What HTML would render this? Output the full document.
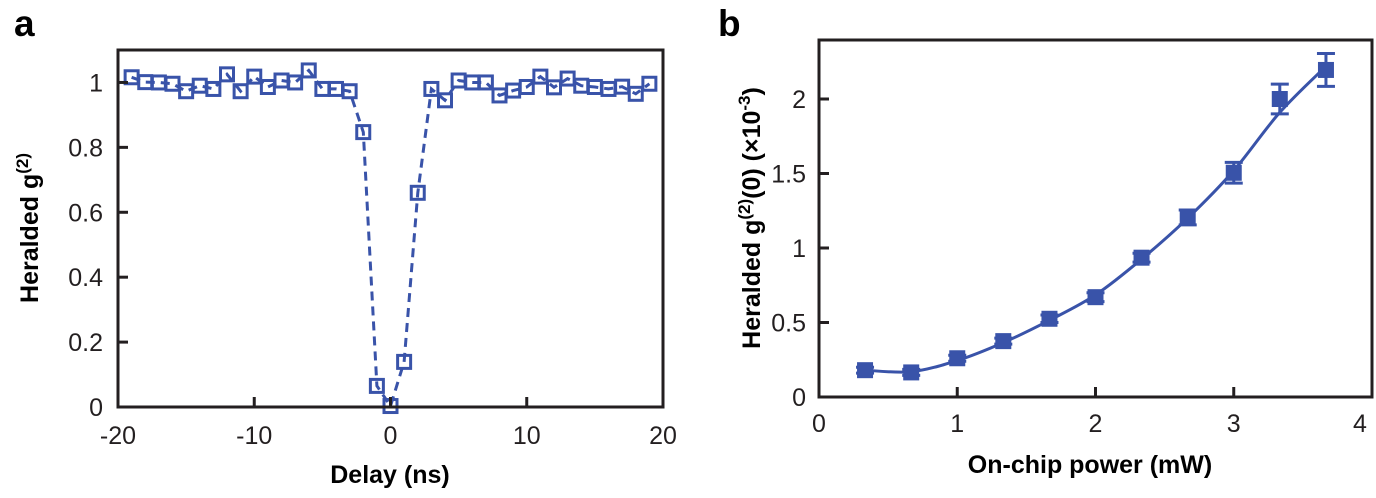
<!DOCTYPE html>
<html><head><meta charset="utf-8"><style>
html,body{margin:0;padding:0;background:#fff;}
svg{display:block;font-family:"Liberation Sans",Arial,sans-serif;}
</style></head><body>
<svg id="fig" width="1376" height="498" viewBox="0 0 1376 498"></svg>
<script>
// Panel a data
const delays = [-19,-18,-17,-16,-15,-14,-13,-12,-11,-10,-9,-8,-7,-6,-5,-4,-3,-2,-1,0,1,2,3,4,5,6,7,8,9,10,11,12,13,14,15,16,17,18,19];
const g2Values = [1.016,1.001,1.0,0.996,0.973,0.99,0.98,1.025,0.973,1.018,0.986,1.006,1.0,1.037,0.98,0.98,0.973,0.847,0.065,0.003,0.139,0.66,0.98,0.945,1.006,1.0,1.0,0.96,0.975,0.986,1.018,0.985,1.012,0.99,0.986,0.98,0.987,0.965,0.996];
const aXTicks = [-20,-10,0,10,20];
const aYTicks = [0,0.2,0.4,0.6,0.8,1];
const aYTickLabels = ["0","0.2","0.4","0.6","0.8","1"];
// Panel b data
const powers = [0.333,0.667,1,1.333,1.667,2,2.333,2.667,3,3.333,3.667];
const g20Values = [0.18,0.165,0.26,0.375,0.525,0.67,0.935,1.205,1.505,2.0,2.195];
const g20Errors = [0.02,0.02,0.02,0.02,0.025,0.03,0.03,0.05,0.07,0.1,0.11];
const fitValues = [0.18,0.17,0.245,0.365,0.515,0.685,0.925,1.2,1.52,1.91,2.22];
const bXTicks = [0,1,2,3,4];
const bYTicks = [0,0.5,1,1.5,2];
const bYTickLabels = ["0","0.5","1","1.5","2"];

const NS="http://www.w3.org/2000/svg";
const svg=document.getElementById('fig');
const BLUE="#3953a9";
const FS=25, TFS=25;
function mk(tag,attrs,parent){const e=document.createElementNS(NS,tag);for(const k in attrs)e.setAttribute(k,attrs[k]);(parent||svg).appendChild(e);return e;}
function txt(s,attrs,parent){const e=mk('text',attrs,parent);e.textContent=s;return e;}

// ---------- Panel a ----------
const A={l:118,r:663,t:50,b:407,x0:-20,x1:20,y0:0,y1:1.1};
const ax=v=>A.l+(v-A.x0)/(A.x1-A.x0)*(A.r-A.l);
const ay=v=>A.b-(v-A.y0)/(A.y1-A.y0)*(A.b-A.t);
const ga=mk('g',{});


const la=txt('a',{x:14,y:36,'font-size':37,'font-weight':'bold'},ga);


let d='';
delays.forEach((x,i)=>{d+=(i?'L':'M')+ax(x).toFixed(1)+' '+ay(g2Values[i]).toFixed(1);});
const lineA=mk('path',{d:d,fill:'none',stroke:BLUE,'stroke-width':3,'stroke-dasharray':'9 6'},ga);


delays.forEach((x,i)=>{
 const r=mk('rect',{x:ax(x)-6.5,y:ay(g2Values[i])-6.5,width:13,height:13,fill:'none',stroke:BLUE,'stroke-width':3},ga);
 
 
});
const boxA=mk('rect',{x:A.l,y:A.t,width:A.r-A.l,height:A.b-A.t,fill:'none',stroke:'#231f20','stroke-width':3},ga);


aXTicks.forEach(v=>{
 const t=mk('line',{x1:ax(v),x2:ax(v),y1:A.b,y2:A.b-10,stroke:'#231f20','stroke-width':3},ga);
 
 
 const l=txt(String(v),{x:ax(v),y:A.b+37,'font-size':FS,'text-anchor':'middle',fill:'#231f20'},ga);
 
 
});
aYTicks.forEach((v,i)=>{
 const t=mk('line',{x1:A.l,x2:A.l+10,y1:ay(v),y2:ay(v),stroke:'#231f20','stroke-width':3},ga);
 
 
 const l=txt(aYTickLabels[i],{x:A.l-15,y:ay(v)+9,'font-size':FS,'text-anchor':'end',fill:'#231f20'},ga);
 
 
});
const xta=txt('Delay (ns)',{x:390,y:483,'font-size':TFS,'font-weight':'bold','text-anchor':'middle'},ga);


const yta=mk('text',{transform:'translate(38,228) rotate(-90)','font-size':TFS,'font-weight':'bold','text-anchor':'middle'},ga);
yta.innerHTML='Heralded g<tspan dy="-10" font-size="17">(2)</tspan>';



// ---------- Panel b ----------
const B={l:819,r:1372,t:40,b:397,x0:0,x1:4,y0:0,y1:2.396};
const bx=v=>B.l+(v-B.x0)/(B.x1-B.x0)*(B.r-B.l);
const by=v=>B.b-(v-B.y0)/(B.y1-B.y0)*(B.b-B.t);
const gb=mk('g',{});


const lb=txt('b',{x:718,y:36,'font-size':37,'font-weight':'bold'},gb);


// smooth fit via Catmull-Rom
const P=powers.map((x,i)=>[bx(x),by(fitValues[i])]);
let fd='M'+P[0][0]+' '+P[0][1];
for(let i=0;i<P.length-1;i++){
 const p0=P[Math.max(0,i-1)],p1=P[i],p2=P[i+1],p3=P[Math.min(P.length-1,i+2)];
 const c1=[p1[0]+(p2[0]-p0[0])/6,p1[1]+(p2[1]-p0[1])/6];
 const c2=[p2[0]-(p3[0]-p1[0])/6,p2[1]-(p3[1]-p1[1])/6];
 fd+=`C${c1[0].toFixed(1)} ${c1[1].toFixed(1)} ${c2[0].toFixed(1)} ${c2[1].toFixed(1)} ${p2[0].toFixed(1)} ${p2[1].toFixed(1)}`;
}
const fit=mk('path',{d:fd,fill:'none',stroke:BLUE,'stroke-width':3},gb);


powers.forEach((x,i)=>{
 const X=bx(x),Y=by(g20Values[i]),t=by(g20Values[i]+g20Errors[i]),b=by(g20Values[i]-g20Errors[i]);
 const e=mk('path',{d:`M${X} ${t}V${b}M${X-9} ${t}H${X+9}M${X-9} ${b}H${X+9}`,stroke:BLUE,'stroke-width':3,fill:'none'},gb);
 
 
 const r=mk('rect',{x:X-8,y:Y-8,width:16,height:16,fill:BLUE},gb);
 
 
});
const boxB=mk('rect',{x:B.l,y:B.t,width:B.r-B.l,height:B.b-B.t,fill:'none',stroke:'#231f20','stroke-width':3},gb);


bXTicks.forEach(v=>{
 const t=mk('line',{x1:bx(v),x2:bx(v),y1:B.b,y2:B.b-10,stroke:'#231f20','stroke-width':3},gb);
 
 
 const l=txt(String(v),{x:v===4?bx(v)-12:bx(v),y:B.b+35,'font-size':FS,'text-anchor':'middle',fill:'#231f20'},gb);
 
 
});
bYTicks.forEach((v,i)=>{
 const t=mk('line',{x1:B.l,x2:B.l+10,y1:by(v),y2:by(v),stroke:'#231f20','stroke-width':3},gb);
 
 
 const l=txt(bYTickLabels[i],{x:B.l-13,y:by(v)+9,'font-size':FS,'text-anchor':'end',fill:'#231f20'},gb);
 
 
});
const xtb=txt('On-chip power (mW)',{x:1090,y:473,'font-size':TFS,'font-weight':'bold','text-anchor':'middle'},gb);


const ytb=mk('text',{transform:'translate(760,218) rotate(-90)','font-size':TFS,'font-weight':'bold','text-anchor':'middle'},gb);
ytb.innerHTML='Heralded g<tspan dy="-10" font-size="17">(2)</tspan><tspan dy="10">(0) (×10</tspan><tspan dy="-10" font-size="17">-3</tspan><tspan dy="10">)</tspan>';


</script>
</body></html>
